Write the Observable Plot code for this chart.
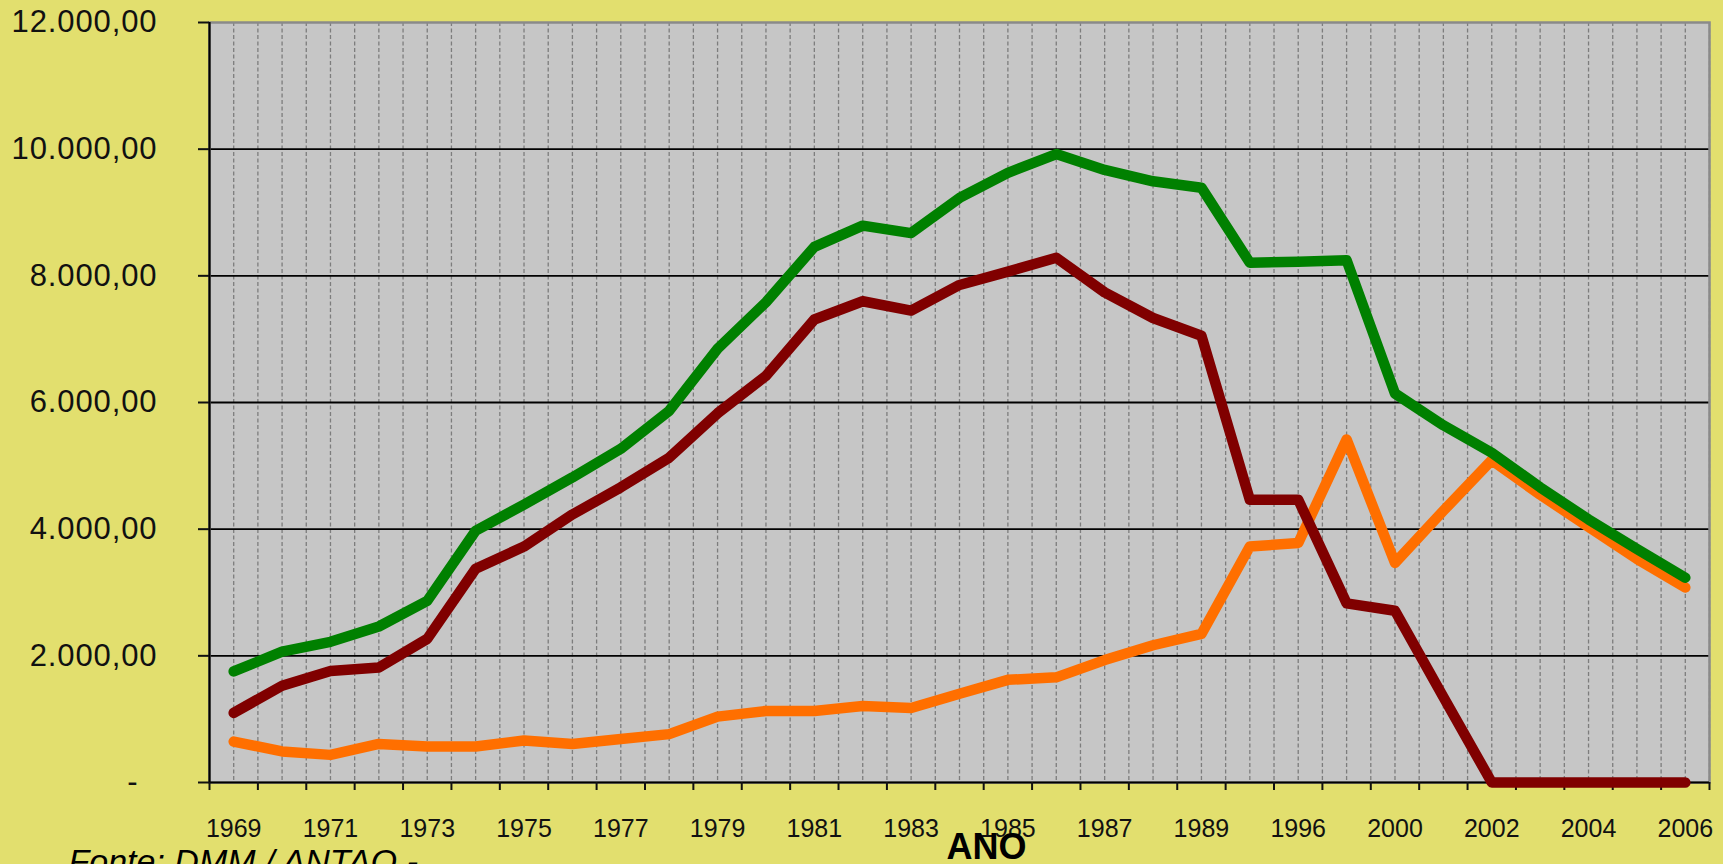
<!DOCTYPE html>
<html>
<head>
<meta charset="utf-8">
<script src="https://cdn.jsdelivr.net/npm/d3@7"></script>
<script src="https://cdn.jsdelivr.net/npm/@observablehq/plot@0.6"></script>
<style>
  html, body { margin: 0; padding: 0; background: #e2df6e; overflow: hidden; width: 1723px; height: 864px; }
  #chart svg { display: block; overflow: visible; }
  #chart g[aria-label="y-axis tick label"] text { letter-spacing: 0.9px; }
</style>
</head>
<body>
<div id="chart"></div>
<script>
// Categories (x axis)
const years = ["1969","1970","1971","1972","1973","1974","1975","1976","1977","1978",
  "1979","1980","1981","1982","1983","1984","1985","1986","1987","1988","1989",
  "1995","1996","1998","2000","2001","2002","2003","2004","2005","2006"];

// Series values
const totalSeries = [1754,2065,2221,2463,2868,3975,4388,4817,5269,5869,
  6850,7584,8457,8792,8675,9230,9626,9922,9672,9493,9392,
  8207,8223,8246,6142,5640,5206,4661,4154,3687,3234];
const redSeries = [1099,1528,1761,1816,2268,3375,3726,4232,4661,5128,
  5830,6420,7311,7599,7451,7856,8067,8285,7739,7334,7054,
  4466,4466,2829,2712,1350,0,0,0,0,0];
const orangeSeries = [647,491,436,608,569,569,662,608,686,764,
  1040,1130,1130,1208,1177,1400,1621,1660,1933,2167,2346,
  3726,3780,5417,3468,4290,5089,4544,4037,3531,3079];

// Tick values
const yTicks = [0, 2000, 4000, 6000, 8000, 10000, 12000];
const xLabelIdx = d3.range(0, years.length, 2);

const fmt = d3.formatLocale({decimal: ",", thousands: ".", grouping: [3], currency: ["", ""]}).format(",.2f");
const idx = years.map((_, i) => i);
const boundaries = d3.range(-0.5, years.length, 1);
const halfGrid = d3.range(0, years.length - 0.25, 0.5);

const lineOpts = {strokeWidth: 10.5, strokeLinecap: "round", strokeLinejoin: "round"};

const chart = Plot.plot({
  width: 1723,
  height: 864,
  marginLeft: 209,
  marginRight: 14,
  marginTop: 22,
  marginBottom: 82,
  style: {background: "transparent", fontFamily: "'Liberation Sans', Arial, sans-serif", color: "#111", overflow: "visible"},
  x: {type: "linear", domain: [-0.5, years.length - 0.5], axis: null},
  y: {domain: [0, 12000], axis: null},
  marks: [
    Plot.frame({fill: "#c6c6c6", stroke: null}),
    Plot.ruleX(halfGrid, {stroke: "#7d7d7d", strokeDasharray: "4,2.5", strokeWidth: 1.3}),
    Plot.ruleY(yTicks.filter(v => v > 0 && v < 12000), {stroke: "#000", strokeWidth: 1.8}),
    Plot.frame({stroke: "#8a8a8a", strokeWidth: 2.5}),
    Plot.ruleX([-0.5], {stroke: "#000", strokeWidth: 2.2}),
    Plot.ruleY([0], {stroke: "#000", strokeWidth: 2.2}),
    Plot.axisY({ticks: yTicks, tickSize: 11, tickPadding: 41, strokeWidth: 2, fontSize: 31,
      tickFormat: v => v === 0 ? "-\u00a0\u00a0" : fmt(v), label: null}),
    Plot.axisX({ticks: boundaries, tickSize: 8, strokeWidth: 2, tickFormat: () => "", label: null}),
    Plot.axisX({ticks: xLabelIdx, tickSize: 0, tickPadding: 37, fontSize: 25,
      tickFormat: i => years[i], label: null}),
    Plot.line(idx, {x: i => i, y: i => orangeSeries[i], stroke: "#ff6f00", ...lineOpts}),
    Plot.line(idx, {x: i => i, y: i => redSeries[i], stroke: "#800000", ...lineOpts}),
    Plot.line(idx, {x: i => i, y: i => totalSeries[i], stroke: "#008000", ...lineOpts}),
    Plot.text(["ANO"], {text: d => d, frameAnchor: "bottom", dx: 27, dy: 65, lineAnchor: "middle",
      fontSize: 36, fontWeight: "bold", fill: "#000"}),
    Plot.text(["Fonte: DMM / ANTAQ -"], {text: d => d, frameAnchor: "bottom-left", textAnchor: "start",
      dx: -141, dy: 80, lineAnchor: "middle", fontSize: 34, fontStyle: "italic", fill: "#000"})
  ]
});
document.getElementById("chart").appendChild(chart);
</script>
</body>
</html>
